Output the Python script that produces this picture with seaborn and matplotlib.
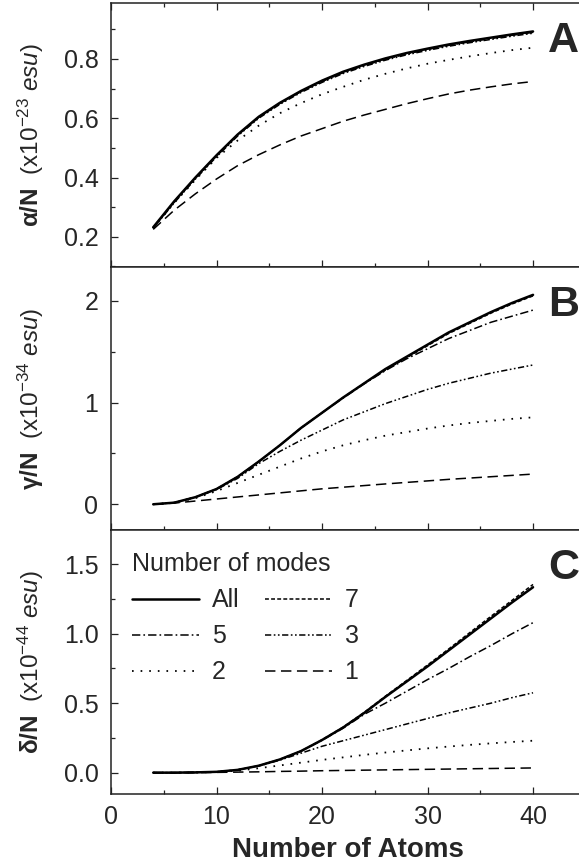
import numpy as np
import pandas as pd
import matplotlib
matplotlib.use("Agg")
import matplotlib.pyplot as plt
import seaborn as sns
from matplotlib.ticker import MultipleLocator, FixedLocator

# ---------------- data ----------------
atoms = [4, 6, 8, 10, 12, 14, 16, 18, 20, 22, 24, 26, 28, 30, 32, 34, 36, 38, 40]
modes = ["All", "7", "5", "3", "2", "1"]

alpha_all = [0.232, 0.320, 0.400, 0.475, 0.545, 0.605, 0.652, 0.692, 0.727, 0.757, 0.781, 0.802, 0.820, 0.835, 0.849, 0.861, 0.872, 0.883, 0.893]
alpha_7 = [0.231, 0.319, 0.399, 0.474, 0.544, 0.604, 0.651, 0.691, 0.726, 0.756, 0.780, 0.801, 0.819, 0.834, 0.848, 0.860, 0.871, 0.882, 0.892]
alpha_5 = [0.230, 0.318, 0.398, 0.473, 0.543, 0.603, 0.650, 0.690, 0.724, 0.754, 0.778, 0.799, 0.817, 0.832, 0.846, 0.858, 0.869, 0.880, 0.890]
alpha_3 = [0.229, 0.315, 0.395, 0.470, 0.540, 0.600, 0.647, 0.687, 0.721, 0.751, 0.775, 0.796, 0.814, 0.829, 0.843, 0.855, 0.866, 0.877, 0.887]
alpha_2 = [0.230, 0.315, 0.392, 0.466, 0.525, 0.575, 0.617, 0.651, 0.681, 0.706, 0.730, 0.750, 0.768, 0.784, 0.797, 0.809, 0.820, 0.830, 0.838]
alpha_1 = [0.225, 0.290, 0.345, 0.395, 0.440, 0.477, 0.510, 0.540, 0.565, 0.590, 0.611, 0.630, 0.649, 0.666, 0.682, 0.695, 0.706, 0.716, 0.724]

gamma_all = [0.0, 0.016, 0.07, 0.15, 0.27, 0.42, 0.58, 0.75, 0.90, 1.05, 1.19, 1.33, 1.45, 1.57, 1.69, 1.79, 1.89, 1.98, 2.06]
gamma_7 = [0.0, 0.016, 0.07, 0.15, 0.27, 0.42, 0.58, 0.75, 0.90, 1.05, 1.19, 1.32, 1.44, 1.56, 1.68, 1.78, 1.88, 1.97, 2.05]
gamma_5 = [0.0, 0.016, 0.07, 0.15, 0.27, 0.42, 0.58, 0.75, 0.90, 1.045, 1.185, 1.315, 1.43, 1.53, 1.63, 1.71, 1.79, 1.85, 1.91]
gamma_3 = [0.0, 0.016, 0.07, 0.145, 0.255, 0.40, 0.52, 0.63, 0.73, 0.83, 0.91, 0.99, 1.06, 1.13, 1.19, 1.24, 1.29, 1.33, 1.37]
gamma_2 = [0.0, 0.015, 0.06, 0.13, 0.21, 0.29, 0.37, 0.45, 0.52, 0.58, 0.63, 0.675, 0.71, 0.745, 0.775, 0.80, 0.82, 0.84, 0.855]
gamma_1 = [0.0, 0.012, 0.032, 0.052, 0.072, 0.092, 0.112, 0.132, 0.152, 0.168, 0.184, 0.20, 0.215, 0.23, 0.245, 0.258, 0.271, 0.284, 0.297]

delta_all = [0.0, 0.0, 0.002, 0.006, 0.02, 0.05, 0.095, 0.155, 0.235, 0.325, 0.43, 0.545, 0.655, 0.765, 0.88, 0.995, 1.11, 1.225, 1.335]
delta_7 = [0.0, 0.0, 0.002, 0.006, 0.02, 0.05, 0.095, 0.155, 0.237, 0.328, 0.434, 0.55, 0.662, 0.775, 0.89, 1.008, 1.125, 1.24, 1.355]
delta_5 = [0.0, 0.0, 0.002, 0.006, 0.02, 0.05, 0.095, 0.155, 0.233, 0.32, 0.42, 0.50, 0.585, 0.67, 0.75, 0.835, 0.915, 1.0, 1.08]
delta_3 = [0.0, 0.0, 0.002, 0.006, 0.02, 0.048, 0.09, 0.14, 0.19, 0.23, 0.27, 0.31, 0.35, 0.39, 0.43, 0.465, 0.50, 0.54, 0.575]
delta_2 = [0.0, 0.0, 0.001, 0.005, 0.014, 0.032, 0.052, 0.072, 0.092, 0.11, 0.128, 0.145, 0.16, 0.175, 0.188, 0.2, 0.211, 0.221, 0.23]
delta_1 = [0.0, 0.0, 0.0, 0.002, 0.004, 0.006, 0.009, 0.011, 0.014, 0.016, 0.018, 0.02, 0.022, 0.024, 0.026, 0.028, 0.030, 0.032, 0.034]

panel_letters = ["A", "B", "C"]
x_ticks = [0, 10, 20, 30, 40]
a_ticks = [0.2, 0.4, 0.6, 0.8]
b_ticks = [0, 1, 2]
c_ticks = [0.0, 0.5, 1.0, 1.5]

# ---------------- style ----------------
sns.set_style("ticks", {"xtick.direction": "in", "ytick.direction": "in"})
plt.rcParams["font.family"] = ["Liberation Sans", "DejaVu Sans"]
plt.rcParams["mathtext.fontset"] = "custom"
plt.rcParams["mathtext.rm"] = "Liberation Sans"
plt.rcParams["mathtext.it"] = "Liberation Sans:italic"
plt.rcParams["mathtext.bf"] = "Liberation Sans:bold"
plt.rcParams["lines.scale_dashes"] = False
plt.rcParams["axes.linewidth"] = 1.1
plt.rcParams["axes.edgecolor"] = "#222222"

styles = {
    "All": dict(ls="-", lw=1.8),
    "7": dict(ls=(0, (2.8, 1.6)), lw=1.1),
    "5": dict(ls=(0, (6.0, 2.2, 1.2, 2.2)), lw=1.1),
    "3": dict(ls=(0, (4.5, 1.8, 1.2, 1.8, 1.2, 1.8)), lw=1.1),
    "2": dict(ls=(0, (1.2, 5.0)), lw=1.3),
    "1": dict(ls=(0, (7.5, 4.0)), lw=1.1),
}

panels = [
    dict(series={"All": alpha_all, "7": alpha_7, "5": alpha_5, "3": alpha_3, "2": alpha_2, "1": alpha_1},
         ylim=(0.098, 0.99), major=a_ticks, minor=0.1, fmt="{:.1f}",
         label=r"$\mathbf{\alpha/N}$  (x10$^{-23}$ $\mathit{esu}$)"),
    dict(series={"All": gamma_all, "7": gamma_7, "5": gamma_5, "3": gamma_3, "2": gamma_2, "1": gamma_1},
         ylim=(-0.253, 2.334), major=b_ticks, minor=0.5, fmt="{:.0f}",
         label=r"$\mathbf{\gamma/N}$  (x10$^{-34}$ $\mathit{esu}$)"),
    dict(series={"All": delta_all, "7": delta_7, "5": delta_5, "3": delta_3, "2": delta_2, "1": delta_1},
         ylim=(-0.15, 1.747), major=c_ticks, minor=0.25, fmt="{:.1f}",
         label=r"$\mathbf{\delta/N}$  (x10$^{-44}$ $\mathit{esu}$)"),
]

fig = plt.figure(figsize=(5.79, 8.63), dpi=100)
W, H = 579.0, 863.0
left = 111 / W
width = 474.8 / W
frames = [(2.7, 267.0), (267.0, 530.0), (530.0, 793.5)]

for i, (pan, (ytop, ybot)) in enumerate(zip(panels, frames)):
    ax = fig.add_axes([left, 1 - ybot / H, width, (ybot - ytop) / H])
    handles = {}
    for m in ["1", "2", "3", "5", "7", "All"]:
        st = styles[m]
        sns.lineplot(x=atoms, y=pan["series"][m], ax=ax, color="black",
                     linestyle=st["ls"], linewidth=st["lw"], label=m)
        handles[m] = ax.lines[-1]
    if ax.get_legend() is not None:
        ax.get_legend().remove()

    ax.set_xlim(0, 45)
    ax.set_ylim(*pan["ylim"])
    ax.xaxis.set_major_locator(FixedLocator(x_ticks))
    ax.xaxis.set_minor_locator(FixedLocator([5, 15, 25, 35]))
    ax.yaxis.set_major_locator(FixedLocator(pan["major"]))
    ax.yaxis.set_minor_locator(MultipleLocator(pan["minor"]))
    ax.set_yticklabels([pan["fmt"].format(v) for v in pan["major"]])
    ax.spines["right"].set_visible(False)
    ax.tick_params(axis="both", which="major", direction="in", length=5, width=0.9,
                   labelsize=18, pad=9, color="#222222")
    ax.tick_params(axis="both", which="minor", direction="in", length=3, width=0.9,
                   color="#222222")
    ax.tick_params(axis="x", which="both", top=(i == 0), bottom=True)
    ax.tick_params(axis="y", which="both", right=False)
    ax.tick_params(axis="x", which="major", pad=8)
    if i < 2:
        ax.tick_params(axis="x", labelbottom=False)
        ax.set_xlabel("")
    else:
        ax.set_xlabel("Number of Atoms", fontsize=20, fontweight="bold", labelpad=6)
    ax.set_ylabel(pan["label"], fontsize=17.5)
    ax.yaxis.set_label_coords(-0.137, 0.5)
    ax.text(0.921, 0.813, panel_letters[i], transform=ax.transAxes,
            fontsize=31, fontweight="bold", ha="left", va="baseline")

    if i == 2:
        order = ["All", "5", "2", "7", "3", "1"]
        ax.legend([handles[m] for m in order], order,
                  title="Number of modes", ncol=2, loc="upper left",
                  bbox_to_anchor=(0.044, 0.915), frameon=False,
                  fontsize=18, title_fontsize=18, handlelength=2.7,
                  handletextpad=0.5, columnspacing=1.0, labelspacing=0.48,
                  borderpad=0, borderaxespad=0, alignment="left")

fig.savefig("out.png", dpi=100)
